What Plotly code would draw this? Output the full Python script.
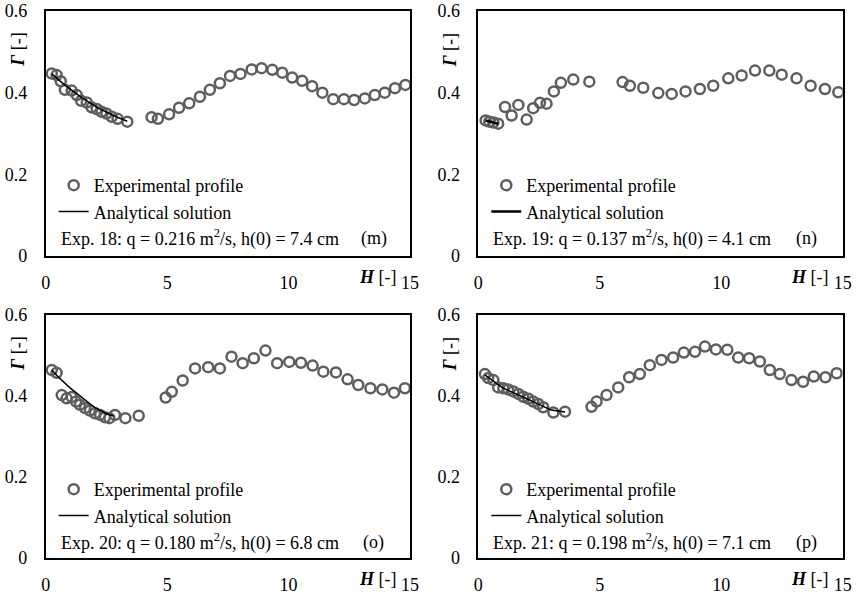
import plotly.graph_objects as go

# ---------------- data ----------------
x_m = [0.25, 0.45, 0.62, 0.79, 1.07, 1.28, 1.46, 1.69, 1.89, 2.10, 2.30, 2.50, 2.72, 2.96, 3.36,
       4.36, 4.62, 5.08, 5.49, 5.91, 6.35, 6.76, 7.17, 7.59, 8.02, 8.48, 8.89, 9.33, 9.74,
       10.15, 10.56, 10.97, 11.39, 11.84, 12.28, 12.70, 13.14, 13.55, 13.96, 14.38, 14.81]
y_m = [0.447, 0.443, 0.428, 0.407, 0.405, 0.394, 0.380, 0.376, 0.364, 0.360, 0.353, 0.349, 0.341, 0.336, 0.329,
       0.340, 0.336, 0.347, 0.363, 0.374, 0.390, 0.407, 0.423, 0.441, 0.446, 0.457, 0.460, 0.456, 0.449,
       0.437, 0.429, 0.416, 0.400, 0.384, 0.384, 0.382, 0.386, 0.394, 0.400, 0.411, 0.419]
xa_m = [0.25, 0.8, 1.5, 2.2, 2.9, 3.36]
ya_m = [0.446, 0.418, 0.387, 0.361, 0.341, 0.330]

x_n = [0.30, 0.45, 0.62, 0.82, 1.10, 1.37, 1.65, 1.99, 2.26, 2.54, 2.81, 3.11, 3.40, 3.91, 4.57,
       5.94, 6.24, 6.79, 7.41, 7.96, 8.53, 9.12, 9.67, 10.29, 10.84, 11.39, 11.98, 12.49, 13.10,
       13.68, 14.27, 14.82]
y_n = [0.332, 0.329, 0.327, 0.324, 0.365, 0.344, 0.370, 0.334, 0.362, 0.375, 0.373, 0.403, 0.424, 0.432, 0.427,
       0.426, 0.417, 0.412, 0.399, 0.397, 0.403, 0.409, 0.417, 0.435, 0.442, 0.454, 0.454, 0.444, 0.435,
       0.417, 0.409, 0.401]
xa_n = [0.30, 0.55, 0.82]
ya_n = [0.332, 0.328, 0.324]

x_o = [0.25, 0.45, 0.66, 0.86, 1.07, 1.25, 1.41, 1.62, 1.82, 2.03, 2.24, 2.44, 2.62, 2.85, 3.28, 3.83,
       4.94, 5.19, 5.64, 6.15, 6.69, 7.17, 7.65, 8.11, 8.57, 9.05, 9.53, 10.03, 10.51, 10.99,
       11.43, 11.95, 12.43, 12.87, 13.37, 13.86, 14.34, 14.79]
y_o = [0.464, 0.457, 0.402, 0.394, 0.397, 0.386, 0.378, 0.370, 0.364, 0.357, 0.353, 0.347, 0.345, 0.353, 0.345, 0.351,
       0.396, 0.410, 0.438, 0.468, 0.471, 0.468, 0.497, 0.481, 0.493, 0.512, 0.481, 0.484, 0.482, 0.475,
       0.460, 0.458, 0.441, 0.427, 0.419, 0.416, 0.408, 0.419]
xa_o = [0.25, 0.5, 1.0, 1.5, 2.0, 2.5, 2.8]
ya_o = [0.464, 0.448, 0.420, 0.395, 0.372, 0.356, 0.350]

x_p = [0.27, 0.41, 0.62, 0.82, 1.03, 1.23, 1.44, 1.65, 1.85, 2.06, 2.26, 2.47, 2.67, 3.09, 3.57,
       4.66, 4.87, 5.28, 5.76, 6.21, 6.65, 7.06, 7.54, 8.02, 8.46, 8.92, 9.33, 9.78, 10.25,
       10.70, 11.15, 11.59, 12.00, 12.41, 12.89, 13.37, 13.81, 14.29, 14.75]
y_p = [0.454, 0.444, 0.439, 0.421, 0.419, 0.416, 0.411, 0.405, 0.398, 0.393, 0.386, 0.380, 0.372, 0.359, 0.361,
       0.373, 0.386, 0.402, 0.421, 0.446, 0.454, 0.476, 0.489, 0.495, 0.507, 0.509, 0.522, 0.515, 0.514,
       0.495, 0.493, 0.485, 0.464, 0.454, 0.439, 0.435, 0.448, 0.446, 0.456]
xa_p = [0.27, 1.0, 2.0, 3.0, 3.57]
ya_p = [0.452, 0.420, 0.393, 0.365, 0.360]

panels = [
    (x_m, y_m, xa_m, ya_m, "Exp. 18: q = 0.216 m<sup>2</sup>/s, h(0) = 7.4 cm", "(m)"),
    (x_n, y_n, xa_n, ya_n, "Exp. 19: q = 0.137 m<sup>2</sup>/s, h(0) = 4.1 cm", "(n)"),
    (x_o, y_o, xa_o, ya_o, "Exp. 20: q = 0.180 m<sup>2</sup>/s, h(0) = 6.8 cm", "(o)"),
    (x_p, y_p, xa_p, ya_p, "Exp. 21: q = 0.198 m<sup>2</sup>/s, h(0) = 7.1 cm", "(p)"),
]
x_ticks = [0, 5, 10, 15]
y_ticks = [0, 0.2, 0.4, 0.6]
y_ticklabels = ["0", "0.2", "0.4", "0.6"]

# ---------------- layout geometry (pixels) ----------------
W, H = 857, 597
FONT = "'Liberation Serif', 'Times New Roman', serif"
FS = 18
TF = dict(family=FONT, size=FS, color="black")
# (left, right, top, bottom) of each plot area in px
boxes = [(45.7, 410.0, 11.0, 256.0), (478.3, 842.7, 11.0, 256.0),
         (45.7, 410.0, 315.0, 557.7), (478.3, 842.7, 315.0, 557.7)]
line_w = [1.5, 2.5, 1.5, 1.5]


def px(v):
    return v / W


def py(v):
    return 1 - v / H


fig = go.Figure()
layout = dict(
    template="none",
    width=W, height=H, margin=dict(l=0, r=0, t=0, b=0, autoexpand=False),
    paper_bgcolor="white", plot_bgcolor="white",
    font=TF,
    showlegend=True, annotations=[],
)

for i, (xs, ys, xa, ya, label, tag) in enumerate(panels):
    n = "" if i == 0 else str(i + 1)
    l, r, t, b = boxes[i]
    xaxis = "x" + n
    yaxis = "y" + n
    leg = "legend" + n
    fig.add_trace(go.Scatter(
        x=xs, y=ys, mode="markers", name="Experimental profile",
        xaxis=xaxis, yaxis=yaxis, legend=leg,
        marker=dict(symbol="circle-open", size=10, color="#5e5e5e", line=dict(width=2.5, color="#5e5e5e")),
    ))
    fig.add_trace(go.Scatter(
        x=xa, y=ya, mode="lines", name="Analytical solution",
        xaxis=xaxis, yaxis=yaxis, legend=leg,
        line=dict(color="black", width=line_w[i]),
    ))
    layout["xaxis" + n] = dict(
        domain=[px(l), px(r)], range=[0, 15], anchor=yaxis, automargin=False,
        tickvals=x_ticks, ticks="", showgrid=False, zeroline=False,
        showline=True, linecolor="black", linewidth=1.5, mirror=True,
        ticklabelstandoff=10, ticklabeloverflow="allow", tickfont=TF,
    )
    layout["yaxis" + n] = dict(
        domain=[py(b), py(t)], range=[0, 0.6], anchor=xaxis, automargin=False,
        tickvals=y_ticks, ticktext=y_ticklabels, ticks="", showgrid=False, zeroline=False,
        showline=True, linecolor="black", linewidth=1.5, mirror=True,
        ticklabelstandoff=13, ticklabeloverflow="allow", tickfont=TF,
    )
    layout[leg] = dict(
        x=px(l + 8), y=py(t + 156), xanchor="left", yanchor="top",
        bgcolor="rgba(0,0,0,0)", borderwidth=0, font=TF,
        traceorder="normal", itemwidth=30,
    )
    layout["annotations"] += [
        dict(text=label, x=px(l + 13), y=py(t + 227), xref="paper", yref="paper",
             xanchor="left", yanchor="middle", showarrow=False, font=TF),
        dict(text=tag, x=px(l + 328), y=py(t + 227), xref="paper", yref="paper",
             xanchor="center", yanchor="middle", showarrow=False, font=TF),
        dict(text="<b><i>H</i></b> [-]", x=px(l + 332), y=py(b + 21), xref="paper", yref="paper",
             xanchor="center", yanchor="middle", showarrow=False, font=TF),
        dict(text="<b><i>Γ</i></b> [-]", x=px(l - 28), y=py(t + 39), xref="paper", yref="paper",
             xanchor="center", yanchor="middle", showarrow=False, textangle=-90, font=TF),
    ]

fig.update_layout(**layout)
fig.write_html("out.html", config={"displayModeBar": False},
               post_script="document.body.style.margin='0';")
